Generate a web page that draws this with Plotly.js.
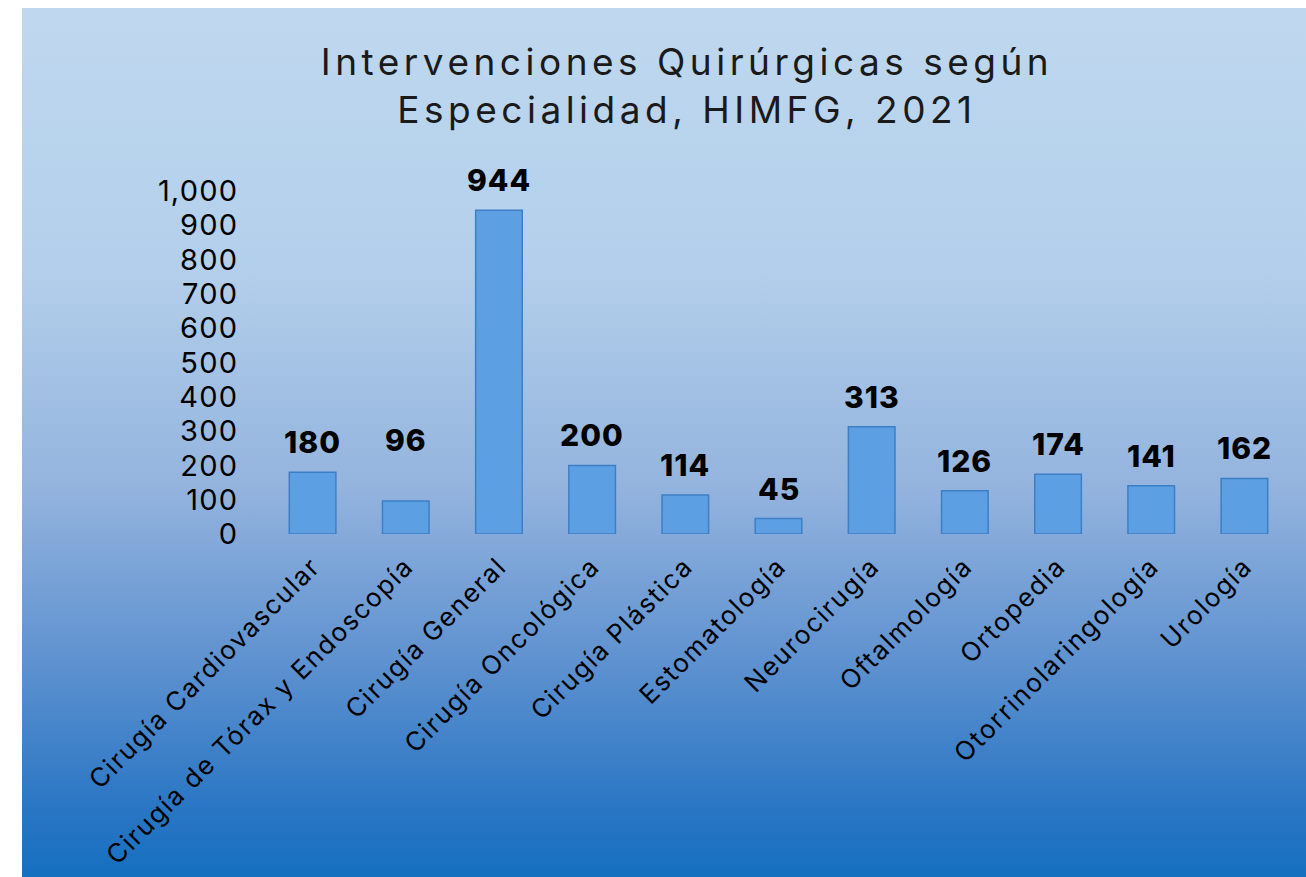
<!DOCTYPE html>
<html>
<head>
<meta charset="utf-8">
<script src="https://cdn.plot.ly/plotly-3.0.1.min.js"></script>
<style>
  html, body { margin: 0; padding: 0; background: #ffffff; }
  #bg { position: absolute; left: 22px; top: 8px; width: 1284px; height: 869px;
        background: linear-gradient(to bottom, #bfd8ef 0%, #b3cfeb 30%, #94b4de 55%, #5f92d0 75%, #2a76c4 92%, #1570c0 100%); }
  #chart { position: absolute; left: 0; top: 0; width: 1306px; height: 877px; }
  .gtitle { letter-spacing: 4.5px; }
  .xtick text { letter-spacing: 1.6px; }
  .ytick text { letter-spacing: 1.2px; }
  .annotation-text { letter-spacing: 1px; }
</style>
</head>
<body>
<div id="bg"></div>
<div id="chart"></div>
<script>
const categories = [
  "Cirugía Cardiovascular",
  "Cirugía de Tórax y Endoscopía",
  "Cirugía General",
  "Cirugía Oncológica",
  "Cirugía Plástica",
  "Estomatología",
  "Neurocirugía",
  "Oftalmología",
  "Ortopedia",
  "Otorrinolaringología",
  "Urología"
];
const values = [180, 96, 944, 200, 114, 45, 313, 126, 174, 141, 162];
const yTickVals = [0, 100, 200, 300, 400, 500, 600, 700, 800, 900, 1000];
const yTickText = ["0", "100", "200", "300", "400", "500", "600", "700", "800", "900", "1,000"];

const fontFam = "Inter, 'Noto Sans', sans-serif";

const trace = {
  type: "bar",
  x: categories,
  y: values,
  marker: {
    color: "#5ca0e3",
    line: { color: "#3d7fc6", width: 1.5 }
  },
  hoverinfo: "x+y"
};

const annotations = categories.map((c, i) => ({
  x: c, y: values[i], xref: "x", yref: "y",
  text: String(values[i]),
  showarrow: false,
  yanchor: "middle",
  yshift: i === 1 ? 61 : 30,
  font: { family: fontFam, size: 30, color: "#000000", weight: 800 }
}));

const layout = {
  width: 1306, height: 877,
  paper_bgcolor: "rgba(0,0,0,0)",
  plot_bgcolor: "rgba(0,0,0,0)",
  margin: { l: 266, r: 15, t: 191, b: 343 },
  bargap: 0.5,
  showlegend: false,
  title: {
    text: "Intervenciones Quirúrgicas según<br>Especialidad, HIMFG, 2021",
    font: { family: fontFam, size: 37, color: "#1a1a1a" },
    x: 0.526, xanchor: "center",
    y: 0.915, yanchor: "middle", yref: "container"
  },
  xaxis: {
    type: "category",
    tickangle: -45,
    tickfont: { family: fontFam, size: 26, color: "#000000" },
    showgrid: false, zeroline: false, showline: false,
    ticks: "outside", ticklen: 6, tickcolor: "rgba(0,0,0,0)"
  },
  yaxis: {
    range: [0, 1000],
    tickvals: yTickVals,
    ticktext: yTickText,
    tickfont: { family: fontFam, size: 29, color: "#000000" },
    showgrid: false, zeroline: false, showline: false,
    ticks: "outside", ticklen: 21, tickcolor: "rgba(0,0,0,0)"
  },
  annotations: annotations
};

Plotly.newPlot("chart", [trace], layout, { displayModeBar: false, staticPlot: true });
</script>
</body>
</html>
